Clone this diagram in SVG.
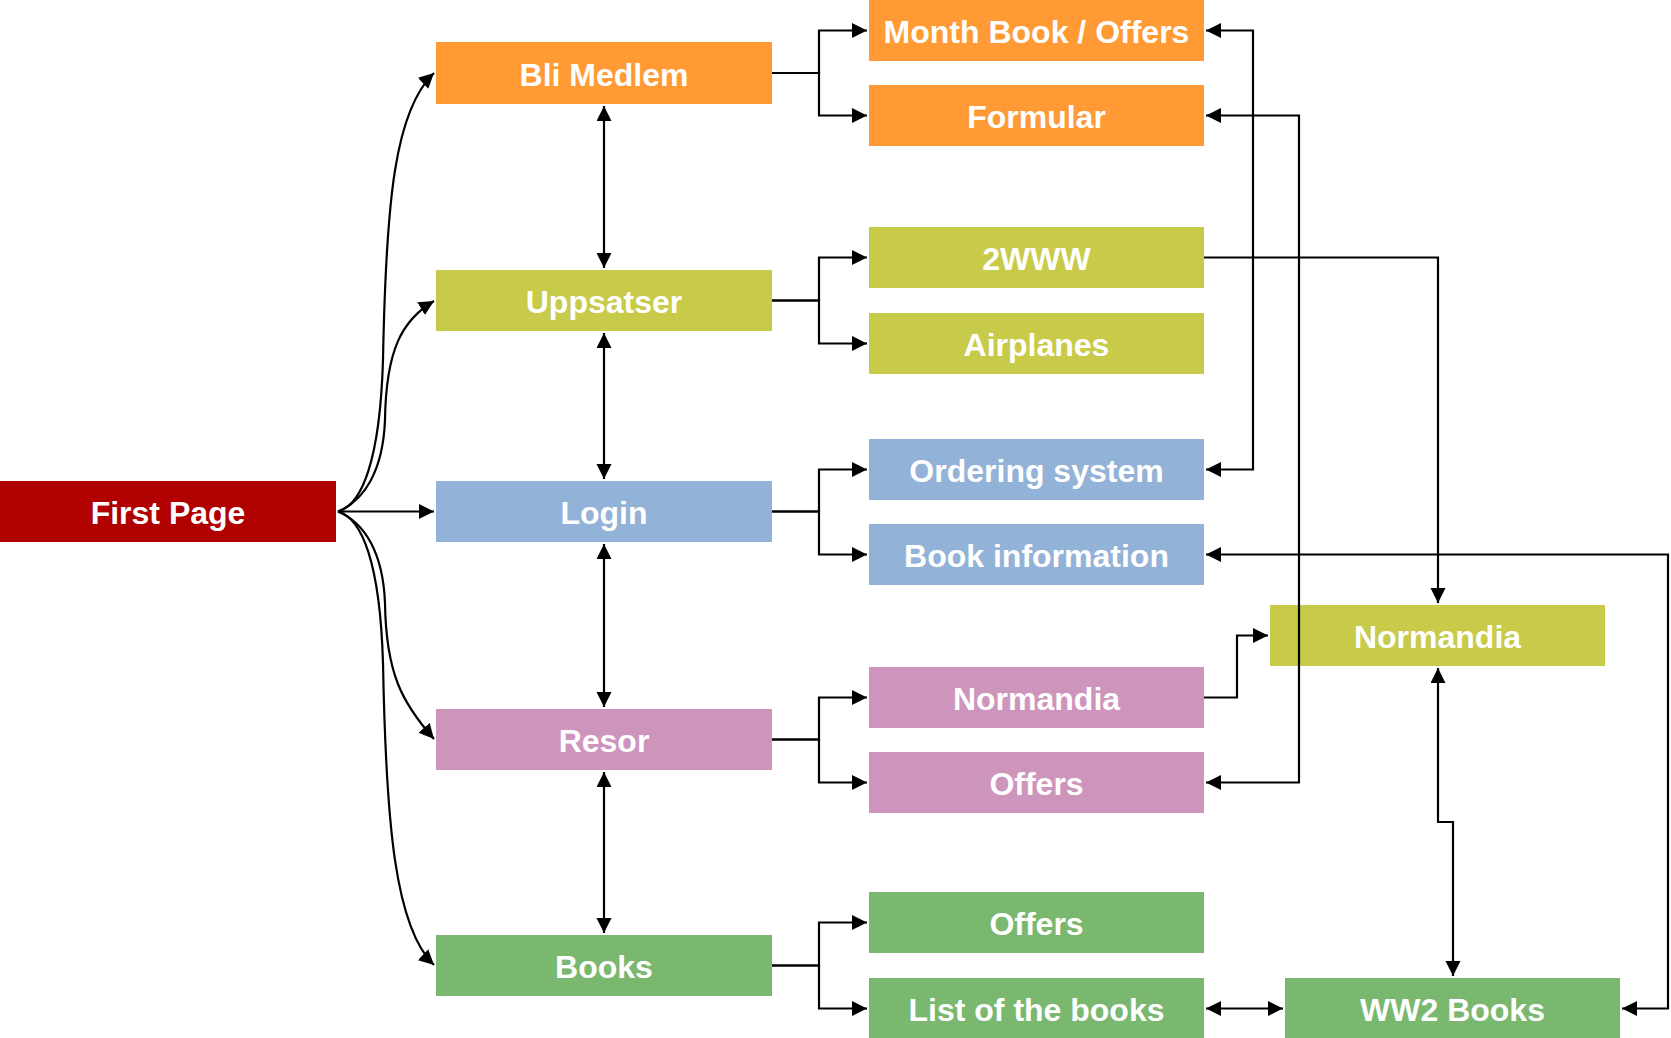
<svg xmlns="http://www.w3.org/2000/svg" width="1671" height="1038" viewBox="0 0 1671 1038">
<style>
.t{font-family:"Liberation Sans",Arial,sans-serif;font-weight:bold;font-size:32px;fill:#ffffff;text-anchor:middle}
.e{fill:none;stroke:#000;stroke-width:2.2}
.or{fill:#FF9A35}.ol{fill:#C8CA4A}.bl{fill:#92B2D7}.pk{fill:#CD94BC}.gr{fill:#7AB86F}.rd{fill:#B00000}
</style>
<defs>
<marker id="a" markerUnits="userSpaceOnUse" markerWidth="16" markerHeight="16" refX="15" refY="7.5" orient="auto-start-reverse" viewBox="0 0 16 16">
<path d="M0,0 L15,7.5 L0,15 z" fill="#000"/>
</marker>
</defs>
<rect width="1671" height="1038" fill="#fff"/>
<g id="first-page"><rect class="rd" x="0" y="481" width="336" height="61"/><text class="t" x="168" y="524">First Page</text></g>
<g id="bli-medlem"><rect class="or" x="436" y="42" width="336" height="62"/><text class="t" x="604" y="85.5">Bli Medlem</text></g>
<g id="uppsatser"><rect class="ol" x="436" y="270" width="336" height="61"/><text class="t" x="604" y="313">Uppsatser</text></g>
<g id="login"><rect class="bl" x="436" y="481" width="336" height="61"/><text class="t" x="604" y="524">Login</text></g>
<g id="resor"><rect class="pk" x="436" y="709" width="336" height="61"/><text class="t" x="604" y="752">Resor</text></g>
<g id="books"><rect class="gr" x="436" y="935" width="336" height="61"/><text class="t" x="604" y="978">Books</text></g>
<g id="month-book"><rect class="or" x="869" y="0" width="335" height="61"/><text class="t" x="1036.5" y="43">Month Book / Offers</text></g>
<g id="formular"><rect class="or" x="869" y="85" width="335" height="61"/><text class="t" x="1036.5" y="128">Formular</text></g>
<g id="www2"><rect class="ol" x="869" y="227" width="335" height="61"/><text class="t" x="1036.5" y="270">2WWW</text></g>
<g id="airplanes"><rect class="ol" x="869" y="313" width="335" height="61"/><text class="t" x="1036.5" y="356">Airplanes</text></g>
<g id="ordering-system"><rect class="bl" x="869" y="439" width="335" height="61"/><text class="t" x="1036.5" y="482">Ordering system</text></g>
<g id="book-information"><rect class="bl" x="869" y="524" width="335" height="61"/><text class="t" x="1036.5" y="567">Book information</text></g>
<g id="normandia-resor"><rect class="pk" x="869" y="667" width="335" height="61"/><text class="t" x="1036.5" y="710">Normandia</text></g>
<g id="offers-resor"><rect class="pk" x="869" y="752" width="335" height="61"/><text class="t" x="1036.5" y="795">Offers</text></g>
<g id="offers-books"><rect class="gr" x="869" y="892" width="335" height="61"/><text class="t" x="1036.5" y="935">Offers</text></g>
<g id="list-books"><rect class="gr" x="869" y="978" width="335" height="61"/><text class="t" x="1036.5" y="1021">List of the books</text></g>
<g id="normandia"><rect class="ol" x="1270" y="605" width="335" height="61"/><text class="t" x="1437.5" y="648">Normandia</text></g>
<g id="ww2-books"><rect class="gr" x="1285" y="978" width="335" height="61"/><text class="t" x="1452.5" y="1021">WW2 Books</text></g>
<g id="connectors">
<path class="e" d="M338 511.5 C362 505,380 460,383 360 C386 200,395 110,434 73" marker-end="url(#a)"/>
<path class="e" d="M338 511.5 C365 500,383 470,385 420 C386 350,402 320,434 301" marker-end="url(#a)"/>
<path class="e" d="M338 511.5 L434 511.5" marker-end="url(#a)"/>
<path class="e" d="M338 511.5 C365 523,383 553,385 603 C386 673,402 703,434 739" marker-end="url(#a)"/>
<path class="e" d="M338 511.5 C362 518,380 563,383 663 C386 823,395 928,434 965" marker-end="url(#a)"/>
<path class="e" d="M604 106 L604 268" marker-start="url(#a)" marker-end="url(#a)"/>
<path class="e" d="M604 333 L604 479" marker-start="url(#a)" marker-end="url(#a)"/>
<path class="e" d="M604 544 L604 707" marker-start="url(#a)" marker-end="url(#a)"/>
<path class="e" d="M604 772 L604 933" marker-start="url(#a)" marker-end="url(#a)"/>
<path class="e" d="M772 73 H819 V30.5 H867" marker-end="url(#a)"/>
<path class="e" d="M772 73 H819 V115.5 H867" marker-end="url(#a)"/>
<path class="e" d="M772 300.5 H819 V257.5 H867" marker-end="url(#a)"/>
<path class="e" d="M772 300.5 H819 V343.5 H867" marker-end="url(#a)"/>
<path class="e" d="M772 511.5 H819 V469.5 H867" marker-end="url(#a)"/>
<path class="e" d="M772 511.5 H819 V554.5 H867" marker-end="url(#a)"/>
<path class="e" d="M772 739.5 H819 V697.5 H867" marker-end="url(#a)"/>
<path class="e" d="M772 739.5 H819 V782.5 H867" marker-end="url(#a)"/>
<path class="e" d="M772 965.5 H819 V922.5 H867" marker-end="url(#a)"/>
<path class="e" d="M772 965.5 H819 V1008.5 H867" marker-end="url(#a)"/>
<path class="e" d="M1206 30.5 H1253 V469.5 H1206" marker-start="url(#a)" marker-end="url(#a)"/>
<path class="e" d="M1206 115.5 H1299 V782.5 H1206" marker-start="url(#a)" marker-end="url(#a)"/>
<path class="e" d="M1204 257.5 H1438 V603" marker-end="url(#a)"/>
<path class="e" d="M1206 554.5 H1668 V1008.5 H1622" marker-start="url(#a)" marker-end="url(#a)"/>
<path class="e" d="M1204 697.5 H1237 V635.5 H1268" marker-end="url(#a)"/>
<path class="e" d="M1438 668 V822 H1453 V976" marker-start="url(#a)" marker-end="url(#a)"/>
<path class="e" d="M1206 1008.5 H1283" marker-start="url(#a)" marker-end="url(#a)"/>
</g>
</svg>
